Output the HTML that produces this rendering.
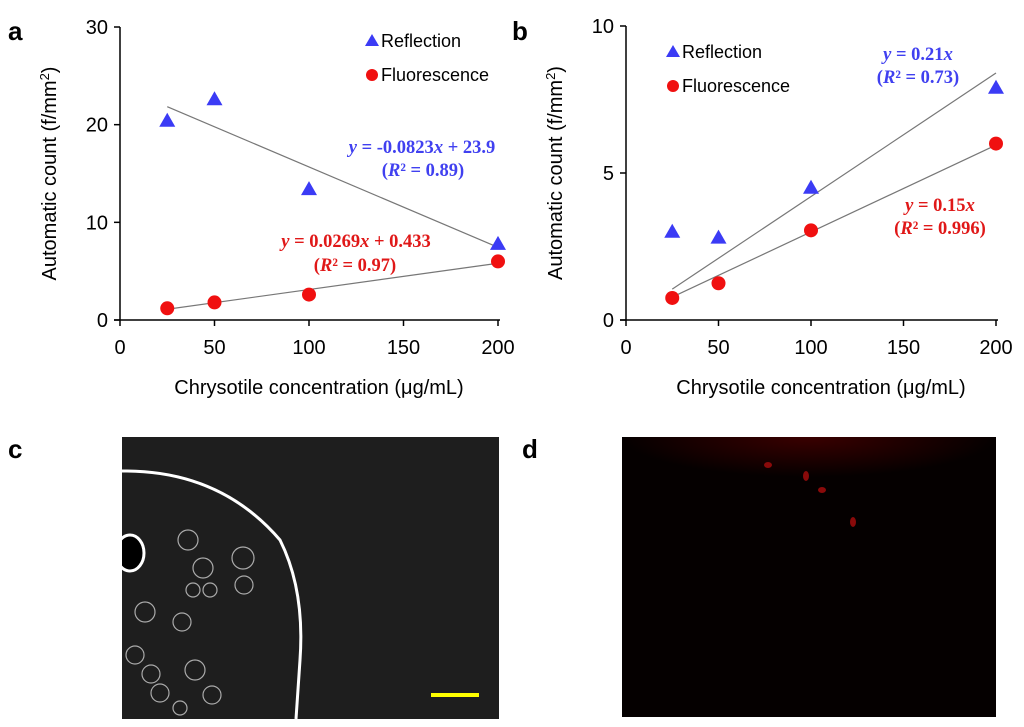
<!DOCTYPE html>
<html><head><meta charset="utf-8"><style>
body{margin:0;background:#fff;width:1024px;height:727px;overflow:hidden;font-family:"Liberation Sans",sans-serif}
svg{position:absolute;left:0;top:0}
.eq{font-family:"Liberation Serif",serif;font-weight:bold;font-size:18.5px}
</style></head><body>
<svg id="s" width="1024" height="727">
<defs><clipPath id="cc"><rect x="122" y="437" width="377" height="282"/></clipPath>
<radialGradient id="rg" cx="0.5" cy="0" r="0.5"><stop offset="0" stop-color="#3a0000"/><stop offset="1" stop-color="#050000"/></radialGradient></defs>
<g clip-path="url(#cc)">
<rect x="122" y="437" width="377" height="282" fill="#1e1e1e"/>
<path d="M122 471 Q220 470 280 540 Q305 590 300 660 L296 719" stroke="#fff" stroke-width="3" fill="none"/>
<ellipse cx="130" cy="553" rx="14" ry="18" fill="#000" stroke="#fff" stroke-width="3"/>
<g stroke="#aaa" stroke-width="1.2" fill="none">
<circle cx="188" cy="540" r="10"/><circle cx="203" cy="568" r="10"/><circle cx="243" cy="558" r="11"/>
<circle cx="244" cy="585" r="9"/><circle cx="193" cy="590" r="7"/><circle cx="210" cy="590" r="7"/>
<circle cx="145" cy="612" r="10"/><circle cx="182" cy="622" r="9"/><circle cx="135" cy="655" r="9"/>
<circle cx="151" cy="674" r="9"/><circle cx="195" cy="670" r="10"/><circle cx="212" cy="695" r="9"/>
<circle cx="160" cy="693" r="9"/><circle cx="180" cy="708" r="7"/>
</g>
<rect x="431" y="693" width="48" height="4" fill="#ff0"/>
</g>
<g>
<rect x="622" y="437" width="374" height="280" fill="#050000"/>
<rect x="622" y="437" width="374" height="80" fill="url(#rg)"/>
<g fill="#8a0a0a"><ellipse cx="768" cy="465" rx="4" ry="3"/><ellipse cx="806" cy="476" rx="3" ry="5"/><ellipse cx="822" cy="490" rx="4" ry="3"/><ellipse cx="853" cy="522" rx="3" ry="5"/></g>
</g>
<text x="8" y="40" font-size="26" font-weight="bold">a</text>
<text x="512" y="40" font-size="26" font-weight="bold">b</text>
<text x="8" y="458" font-size="26" font-weight="bold">c</text>
<text x="522" y="458" font-size="26" font-weight="bold">d</text>
</svg>
<script>
const xCats=[25,50,100,200];
const aRefl=[20.4,22.6,13.4,7.8];
const aFluo=[1.2,1.8,2.6,6.0];
const aReflLine=[21.84,7.44];
const aFluoLine=[1.1,5.81];
const bRefl=[3.0,2.8,4.5,7.9];
const bFluo=[0.75,1.25,3.05,6.0];
const bReflLine=[1.05,8.4];
const bFluoLine=[0.78,5.95];
const xTicks=[0,50,100,150,200];
const aYTicks=[0,10,20,30];
const bYTicks=[0,5,10];
const NS="http://www.w3.org/2000/svg",S=document.getElementById('s');
function el(t,a,p){const e=document.createElementNS(NS,t);for(const k in a)e.setAttribute(k,a[k]);(p||S).appendChild(e);return e;}
function chart(id,x0,x1,y0,y1,ymax,yt,refl,fluo,rl,fl,leg,eqs){
 const g=el('g',{});
 
 
 const X=v=>x0+(x1-x0)*v/200, Y=v=>y0-(y0-y1)*v/ymax;
 el('line',{x1:x0,y1:y1,x2:x0,y2:y0,stroke:'#000','stroke-width':1.5},g);
 el('line',{x1:x0-6,y1:y0,x2:x1+2,y2:y0,stroke:'#000','stroke-width':1.5},g);
 yt.forEach(v=>{el('line',{x1:x0-6,y1:Y(v),x2:x0,y2:Y(v),stroke:'#000','stroke-width':1.5},g);
  const t=el('text',{x:x0-12,y:Y(v)+7,'text-anchor':'end','font-size':20},g);t.textContent=v;
  
  });
 xTicks.forEach(v=>{el('line',{x1:X(v),y1:y0,x2:X(v),y2:y0+6,stroke:'#000','stroke-width':1.5},g);
  const t=el('text',{x:X(v),y:y0+34,'text-anchor':'middle','font-size':20},g);t.textContent=v;
  
  });
 const xt=el('text',{x:(x0+x1)/2+10,y:y0+74,'text-anchor':'middle','font-size':20},g);xt.textContent='Chrysotile concentration (\u03bcg/mL)';
 
 
 const yx=x0-64,yc=(y0+y1)/2;
 const ytt=el('text',{x:yx,y:yc,transform:`rotate(-90 ${yx} ${yc})`,'text-anchor':'middle','font-size':20},g);
 ytt.innerHTML='Automatic count (f/mm<tspan dy="-7" font-size="13">2</tspan><tspan dy="7">)</tspan>';
 
 
 [[rl,'refl'],[fl,'fluo']].forEach(([l,n])=>{const ln=el('line',{x1:X(25),y1:Y(l[0]),x2:X(200),y2:Y(l[1]),stroke:'#777','stroke-width':1.2},g);
  
  });
 xCats.forEach((c,i)=>{const cx=X(c),cy=Y(refl[i]);
  const p=el('polygon',{points:`${cx},${cy-8} ${cx-8},${cy+6} ${cx+8},${cy+6}`,fill:'#3b3bf5'},g);
  
  
  const q=el('circle',{cx:cx,cy:Y(fluo[i]),r:7,fill:'#f01010'},g);
  
  });
 const lx=leg[0],ly=leg[1];
 const lg=el('g',{},g);
 
 
 el('polygon',{points:`${lx},${ly-7} ${lx-7},${ly+5} ${lx+7},${ly+5}`,fill:'#3b3bf5'},lg);
 let t=el('text',{x:lx+9,y:ly+6,'font-size':18},lg);t.textContent='Reflection';
 el('circle',{cx:lx,cy:ly+34,r:6,fill:'#f01010'},lg);
 t=el('text',{x:lx+9,y:ly+40,'font-size':18},lg);t.textContent='Fluorescence';
 eqs.forEach(e=>{const tt=el('text',{x:e[0],y:e[1],'text-anchor':'middle',class:'eq',fill:e[2]},g);tt.innerHTML=e[3];
  
  });
}
chart('chart-a',120,498,320,27,30,aYTicks,aRefl,aFluo,aReflLine,aFluoLine,[372,41],
 [[422,153,'#4040f0','<tspan font-style="italic">y</tspan> = -0.0823<tspan font-style="italic">x</tspan> + 23.9'],[423,176,'#4040f0','(<tspan font-style="italic">R</tspan>² = 0.89)'],
  [356,247,'#e01818','<tspan font-style="italic">y</tspan> = 0.0269<tspan font-style="italic">x</tspan> + 0.433'],[355,271,'#e01818','(<tspan font-style="italic">R</tspan>² = 0.97)']]);
chart('chart-b',626,996,320,26,10,bYTicks,bRefl,bFluo,bReflLine,bFluoLine,[673,52],
 [[918,60,'#4040f0','<tspan font-style="italic">y</tspan> = 0.21<tspan font-style="italic">x</tspan>'],[918,83,'#4040f0','(<tspan font-style="italic">R</tspan>² = 0.73)']
 ,[940,211,'#e01818','<tspan font-style="italic">y</tspan> = 0.15<tspan font-style="italic">x</tspan>'],[940,234,'#e01818','(<tspan font-style="italic">R</tspan>² = 0.996)']]);
</script>
</body></html>
